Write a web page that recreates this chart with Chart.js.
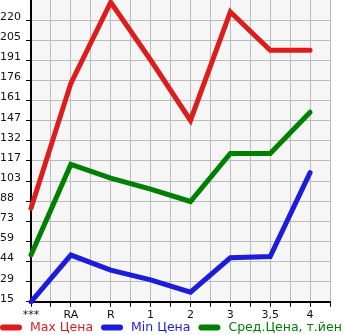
<!DOCTYPE html>
<html>
<head>
<meta charset="utf-8">
<script src="https://cdn.jsdelivr.net/npm/chart.js@4"></script>
<style>
  html, body { margin: 0; padding: 0; background: #fff; }
  #wrap { width: 345px; height: 335px; }
</style>
</head>
<body>
<div id="wrap"><canvas id="priceChart"></canvas></div>
<script>
const categories = ["***", "RA", "R", "1", "2", "3", "3,5", "4"];
const maxPrice = [83, 174, 233, 191, 147, 226, 198, 198];
const minPrice = [15, 49, 38, 31, 22, 47, 48, 109];
const avgPrice = [49, 115, 105, 97, 88, 123, 123, 153];
const yTickLabels = [15, 29, 44, 59, 73, 88, 103, 117, 132, 147, 161, 176, 191, 205, 220];

const yStep = (yTickLabels[yTickLabels.length - 1] - yTickLabels[0]) / (yTickLabels.length - 1);

function points(values) {
  return values.map((v, i) => ({ x: i, y: v }));
}

const series = [
  { label: "Max Цена", data: points(maxPrice), color: "rgb(221,28,28)" },
  { label: "Min Цена", data: points(minPrice), color: "rgb(28,28,221)" },
  { label: "Сред.Цена, т.йен", data: points(avgPrice), color: "rgb(0,128,0)" }
];

const plotBg = {
  id: "plotBg",
  beforeDraw(chart) {
    const { ctx, chartArea: a } = chart;
    ctx.save();
    ctx.fillStyle = "#f6f6f6";
    ctx.fillRect(a.left, a.top, a.right - a.left, a.bottom - a.top);
    ctx.restore();
  }
};

// the original legend runs right up to the edge, so it is drawn by hand in one row
const lineLegend = {
  id: "lineLegend",
  afterDraw(chart) {
    const ctx = chart.ctx;
    const y = chart.height - 7.5;
    let x = 0;
    ctx.save();
    ctx.font = "12.5px 'DejaVu Sans'";
    ctx.textBaseline = "middle";
    chart.data.datasets.forEach(ds => {
      ctx.strokeStyle = ds.borderColor;
      ctx.lineWidth = 6;
      ctx.lineCap = "round";
      ctx.beginPath();
      ctx.moveTo(x + 3, y);
      ctx.lineTo(x + 19, y);
      ctx.stroke();
      ctx.fillStyle = ds.borderColor;
      ctx.fillText(ds.label, x + 30, y);
      x += 30 + ctx.measureText(ds.label).width + 8;
    });
    ctx.restore();
  }
};

new Chart(document.getElementById("priceChart"), {
  type: "line",
  data: {
    datasets: series.map(s => ({
      label: s.label,
      data: s.data,
      borderColor: s.color,
      backgroundColor: s.color,
      borderWidth: 5,
      pointRadius: 0,
      tension: 0,
      borderCapStyle: "round",
      borderJoinStyle: "miter",
      clip: false
    }))
  },
  options: {
    responsive: true,
    maintainAspectRatio: false,
    animation: false,
    layout: { padding: { left: 0, right: 15, top: 0, bottom: 11 } },
    plugins: {
      tooltip: { enabled: false },
      legend: { display: false }
    },
    scales: {
      x: {
        type: "linear",
        min: 0,
        max: categories.length - 0.5,
        afterBuildTicks(scale) {
          const t = [];
          for (let i = 0; i <= (categories.length - 0.5) * 2; i++) t.push({ value: i / 2 });
          scale.ticks = t;
        },
        ticks: {
          autoSkip: false,
          maxRotation: 0,
          padding: 2,
          color: "#111",
          font: { family: "DejaVu Sans", size: 11 },
          callback(value) {
            return Number.isInteger(value) && categories[value] !== undefined ? categories[value] : "";
          }
        },
        grid: { color: "#bbb", tickColor: "#000", tickLength: 5, lineWidth: 1 },
        border: { color: "#000", width: 2 }
      },
      y: {
        type: "linear",
        min: yTickLabels[0],
        max: yTickLabels[yTickLabels.length - 1] + yStep,
        afterBuildTicks(scale) {
          scale.ticks = yTickLabels.map((_, i) => ({ value: yTickLabels[0] + i * yStep }));
        },
        afterFit(scale) {
          scale.width = 31;
          scale.paddingTop = 0;
          scale.paddingBottom = 0;
        },
        ticks: {
          autoSkip: false,
          crossAlign: "far",
          labelOffset: -3,
          color: "#111",
          font: { family: "DejaVu Sans", size: 11 },
          callback(value, index) {
            return String(yTickLabels[index]);
          }
        },
        grid: { color: "#bbb", tickColor: "#000", tickLength: 5, lineWidth: 1 },
        border: { color: "#000", width: 2 }
      }
    }
  },
  plugins: [plotBg, lineLegend]
});
</script>
</body>
</html>
